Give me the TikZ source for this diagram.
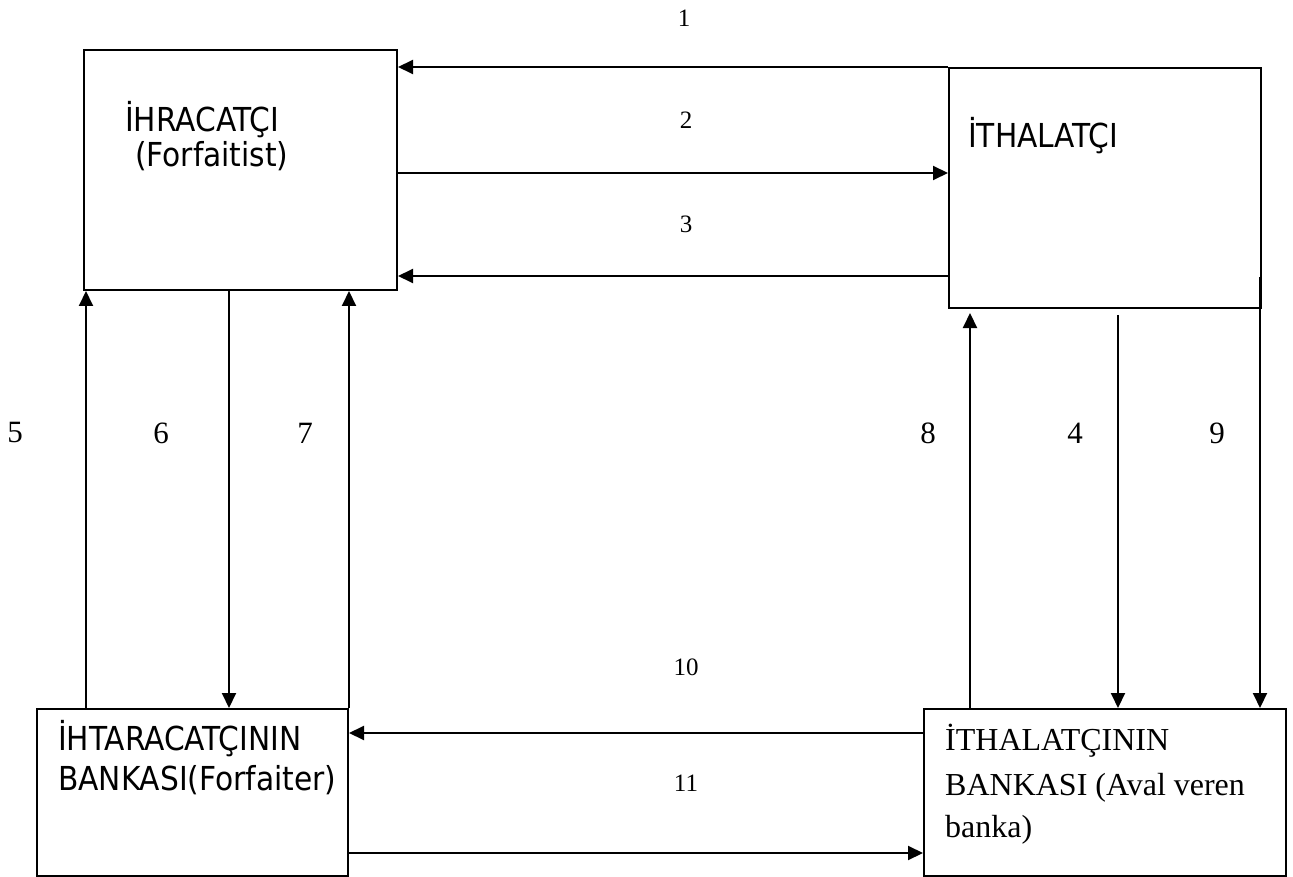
\documentclass[tikz,border=0pt]{standalone}
\usepackage{fontspec}
\setmainfont{Liberation Serif}
\newfontfamily\boxfont{DejaVu Sans Condensed}
\usetikzlibrary{arrows.meta}
\begin{document}
\begin{tikzpicture}[x=1pt,y=-1pt,
  box/.style={draw,line width=2pt,rectangle,inner sep=0pt},
  arr/.style={line width=2pt,-{Triangle[length=15pt,width=14pt]}},
  num/.style={font=\fontsize{25}{30}\selectfont,inner sep=0pt},
  bignum/.style={font=\fontsize{31}{36}\selectfont,inner sep=0pt},
  sans/.style={font=\boxfont\fontsize{33}{38}\selectfont,inner sep=0pt,anchor=base west},
  serif/.style={font=\fontsize{32}{43}\selectfont,inner sep=0pt,anchor=base west}]
\useasboundingbox (0,0) rectangle (1293,877);
% boxes
\node[box,minimum width=313pt,minimum height=240pt] (b1) at (240.5,170) {};
\node[box,minimum width=312pt,minimum height=240pt] (b2) at (1105,188) {};
\node[box,minimum width=311pt,minimum height=167pt] (b3) at (192.5,792.5) {};
\node[box,minimum width=362pt,minimum height=167pt] (b4) at (1105,792.5) {};
% box texts
\node[sans] (t1a) at (125,132) {İHRACATÇI};
\node[sans] (t1b) at (135,167) {(Forfaitist)};
\node[sans] (t2) at (968,148) {İTHALATÇI};
\node[sans] (t3a) at (58,750) {İHTARACATÇININ};
\node[sans] (t3b) at (58,790) {BANKASI(Forfaiter)};
\node[serif] (t4a) at (945,750) {İTHALATÇININ};
\node[serif] (t4b) at (945,795) {BANKASI (Aval veren};
\node[serif] (t4c) at (945,837) {banka)};
% coordinates for connector positions
\coordinate (y2) at (0,173);
\coordinate (y3) at (0,276);
\coordinate (y9) at (0,277);
\coordinate (y10) at (0,733);
\coordinate (y11) at (0,853);
\coordinate (x5) at (86,0);
\coordinate (x6) at (229,0);
\coordinate (x7) at (349,0);
\coordinate (x8) at (970,0);
\coordinate (x4) at (1118,0);
\coordinate (x9) at (1260,0);
% connectors
\draw[arr] (b2.north west) -- (b2.north west -| b1.east);
\draw[arr] (b1.east |- y2) -- (b2.west |- y2);
\draw[arr] (b2.west |- y3) -- (b1.east |- y3);
\draw[arr] (b3.north -| x5) -- (b1.south -| x5);
\draw[arr] (b1.south -| x6) -- (b3.north -| x6);
\draw[arr] (b3.north -| x7) -- (b1.south -| x7);
\draw[arr,shorten >=4pt] (b4.north -| x8) -- (b2.south -| x8);
\draw[arr,shorten <=6pt] (b2.south -| x4) -- (b4.north -| x4);
\coordinate (s9) at (x9 |- y9);
\draw[arr] (s9) -- (b4.north -| x9);
\draw[arr] (b4.west |- y10) -- (b3.east |- y10);
\draw[arr] (b3.east |- y11) -- (b4.west |- y11);
% labels
\node[num] (n1) at (684,18) {1};
\node[num] (n2) at (686,120) {2};
\node[num] (n3) at (686,224) {3};
\node[bignum] (n5) at (15,433) {5};
\node[bignum] (n6) at (161,433) {6};
\node[bignum] (n7) at (305,433) {7};
\node[bignum] (n8) at (928,433) {8};
\node[bignum] (n4) at (1075,433) {4};
\node[bignum] (n9) at (1217,433) {9};
\node[num] (n10) at (686,667) {10};
\node[num] (n11) at (686,783) {11};
\end{tikzpicture}
\end{document}
